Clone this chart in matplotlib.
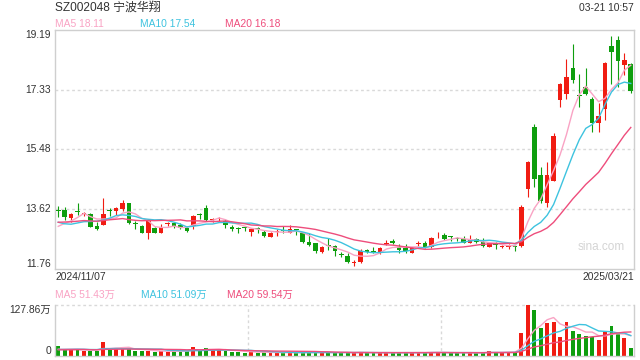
import matplotlib
matplotlib.use('Agg')
import matplotlib.pyplot as plt
import numpy as np
from matplotlib.transforms import blended_transform_factory as btf

FONT = ['Liberation Sans', 'Noto Sans CJK SC', 'DejaVu Sans']
plt.rcParams['font.family'] = FONT

# ---------------- data ----------------
code = 'SZ002048'
name = '宁波华翔'
stamp = '03-21 10:57'
start_date = '2024/11/07'
end_date = '2025/03/21'
price_ticks = [11.76, 13.62, 15.48, 17.33, 19.19]
vol_ticks = [0, 127.86]
ma_price_labels = ['MA5 18.11', 'MA10 17.54', 'MA20 16.18']
ma_vol_labels = ['MA5 51.43万', 'MA10 51.09万', 'MA20 59.54万']

opens = [13.58, 13.59, 13.33, 13.55, 13.48, 13.47, 13.09, 13.13, 13.58, 13.57,
         13.61, 13.82, 13.17, 13.09, 12.89, 13.02, 12.89, 13.15, 13.18, 13.13,
         13.02, 13.10, 13.44, 13.64, 13.27, 13.32, 13.26, 13.07, 13.00, 13.03,
         12.92, 13.00, 12.92, 12.76, 12.91, 12.96, 12.89, 12.98, 12.89, 12.61,
         12.56, 12.28, 12.50, 12.47, 12.20, 12.16, 11.95, 11.99, 12.35, 12.31,
         12.25, 12.55, 12.63, 12.45, 12.40, 12.27, 12.55, 12.58, 12.44, 12.80,
         12.81, 12.76, 12.69, 12.68, 12.58, 12.68, 12.61, 12.45, 12.58, 12.44,
         12.44, 12.46, 12.47, 14.23, 16.18, 14.68, 13.82, 14.50, 17.00, 17.19,
         17.99, 17.14, 17.42, 17.03, 16.30, 16.72, 18.68, 18.87, 18.09, 18.12]
highs = [13.71, 13.67, 13.51, 13.80, 13.54, 13.49, 13.23, 13.95, 13.64, 13.69,
         13.90, 13.82, 13.26, 13.13, 13.30, 13.05, 13.16, 13.23, 13.23, 13.20,
         13.07, 13.44, 13.51, 13.75, 13.33, 13.38, 13.30, 13.13, 13.07, 13.07,
         13.02, 13.05, 12.97, 12.92, 12.99, 13.09, 13.13, 12.99, 12.89, 12.87,
         12.58, 12.47, 12.71, 12.50, 12.30, 12.25, 12.04, 12.37, 12.37, 12.45,
         12.45, 12.66, 12.68, 12.54, 12.54, 12.45, 12.64, 12.64, 12.74, 12.90,
         12.87, 12.78, 12.75, 12.78, 12.81, 12.71, 12.71, 12.58, 12.61, 12.50,
         12.54, 12.50, 13.75, 15.12, 16.26, 14.93, 15.09, 15.99, 17.54, 18.27,
         18.74, 17.81, 17.99, 17.11, 16.90, 18.19, 18.99, 18.99, 18.47, 18.16]
lows = [13.37, 13.28, 13.23, 13.44, 13.40, 13.05, 12.97, 13.12, 13.40, 13.44,
        13.57, 13.15, 12.99, 12.87, 12.68, 12.87, 12.87, 13.09, 13.02, 12.99,
        12.91, 12.99, 13.30, 13.26, 13.23, 13.26, 13.02, 12.95, 12.89, 12.95,
        12.79, 12.89, 12.75, 12.74, 12.78, 12.89, 12.87, 12.81, 12.58, 12.47,
        12.27, 12.25, 12.35, 12.15, 12.14, 11.96, 11.85, 11.96, 12.25, 12.25,
        12.23, 12.50, 12.54, 12.27, 12.27, 12.25, 12.47, 12.40, 12.40, 12.73,
        12.66, 12.64, 12.64, 12.56, 12.56, 12.58, 12.45, 12.43, 12.37, 12.40,
        12.37, 12.33, 12.45, 14.00, 14.31, 13.80, 13.69, 14.50, 16.80, 17.03,
        17.54, 16.80, 17.16, 16.02, 16.02, 16.38, 17.50, 17.42, 17.78, 17.21]
closes = [13.57, 13.36, 13.47, 13.54, 13.49, 13.07, 12.99, 13.47, 13.57, 13.64,
          13.80, 13.18, 13.16, 12.89, 13.26, 12.89, 13.05, 13.16, 13.10, 13.02,
          12.95, 13.40, 13.43, 13.28, 13.28, 13.33, 13.13, 12.99, 12.99, 13.02,
          12.99, 12.99, 12.78, 12.87, 12.92, 12.95, 12.99, 12.97, 12.61, 12.50,
          12.33, 12.45, 12.47, 12.33, 12.19, 11.99, 11.96, 12.33, 12.30, 12.30,
          12.40, 12.56, 12.58, 12.35, 12.32, 12.42, 12.56, 12.44, 12.71, 12.81,
          12.68, 12.75, 12.68, 12.58, 12.68, 12.61, 12.47, 12.56, 12.50, 12.45,
          12.45, 12.45, 13.69, 15.09, 14.54, 13.88, 14.68, 15.89, 17.50, 17.71,
          17.63, 17.13, 17.19, 16.30, 16.51, 18.16, 18.50, 18.22, 18.25, 17.29]
# volume in 万 (10k shares)
volumes = [25.1, 16.7, 16.7, 17.5, 13.4, 13.4, 13.4, 35.9, 17.5, 19.2,
           19.2, 17.5, 13.4, 13.4, 12.5, 10.9, 12.5, 10.9, 12.5, 12.5,
           12.5, 23.4, 12.5, 20.9, 15.0, 15.0, 13.4, 10.9, 10.9, 8.4,
           10.9, 8.4, 9.2, 8.4, 7.5, 8.4, 9.2, 7.5, 9.2, 8.4,
           9.2, 10.0, 8.4, 7.5, 8.4, 9.2, 8.4, 10.0, 7.5, 7.5,
           8.4, 9.2, 8.4, 7.5, 8.4, 8.4, 9.2, 8.4, 10.0, 9.2,
           8.4, 7.5, 7.5, 8.4, 8.4, 7.5, 8.4, 12.5, 9.2, 8.4,
           10.0, 10.0, 58.5, 127.86, 115.3, 69.4, 83.6, 86.1, 48.5, 84.4,
           63.0, 54.0, 50.1, 48.5, 40.1, 59.0, 74.0, 56.8, 46.0, 20.0]
# sessions before the window (only used for the moving averages)
prior_closes = [13.2, 13.3, 13.2, 13.1, 13.3, 13.2, 13.0, 13.1, 13.3, 13.4,
                13.83, 13.6, 13.15, 13.1, 13.0, 12.9, 13.1, 13.0, 12.85]
prior_volumes = [14, 16, 15, 13, 17, 15, 14, 16, 15, 13,
                 15, 16, 14, 15, 17, 15, 14, 16, 15]

# ---------------- style ----------------
UP = '#f01c12'
DOWN = '#0e9e0e'
MA_COLORS = ['#f9a3c4', '#3ec3df', '#ee4d7c']
GRID = '#d9d9d9'
BORDER = '#cfcfcf'
TXT = '#333333'
FS = 7.4

n = len(closes)
x = np.arange(n)
o = np.array(opens); h = np.array(highs); l = np.array(lows); c = np.array(closes)
v = np.array(volumes)
up = c >= o
cols = [UP if u else DOWN for u in up]

def ma(series, prior, k):
    full = np.concatenate([prior, series])
    out = np.convolve(full, np.ones(k) / k, mode='valid')
    return out[-len(series):]

fig = plt.figure(figsize=(6.4, 3.6), dpi=100)
L, R = 55 / 640, 634 / 640
ax = fig.add_axes([L, 1 - 269 / 360, R - L, (269 - 29.6) / 360])
axv = fig.add_axes([L, 1 - 356 / 360, R - L, (356 - 305) / 360])

# ---- price panel ----
ax.vlines(x, l, h, colors=cols, linewidth=0.8, zorder=2)
body_lo = np.minimum(o, c)
body_h = np.maximum(np.abs(c - o), 0.03)
ax.bar(x, body_h, bottom=body_lo, width=0.72, color=cols, linewidth=0, zorder=3)
for k, col in zip([5, 10, 20], MA_COLORS):
    ax.plot(x, ma(c, np.array(prior_closes), k), color=col, lw=1.0, zorder=4)

ax.set_xlim(-0.5, n - 0.5)
ax.set_ylim(price_ticks[0], price_ticks[-1])
ax.set_xticks([]); ax.set_yticks([])
for s in ax.spines.values():
    s.set_color(BORDER); s.set_linewidth(1.0)
for t in price_ticks[1:-1]:
    ax.axhline(t, color=GRID, lw=1.0, ls=(0, (2, 2)), zorder=1)

tr = btf(fig.transFigure, ax.transData)
for i, t in enumerate(price_ticks):
    va = 'bottom' if i == 0 else ('top' if i == len(price_ticks) - 1 else 'center')
    fig.text(51 / 640, t, f'{t:.2f}', transform=tr, ha='right', va=va,
             fontsize=FS, color=TXT)

ax.text(0.985, 0.09, 'sina.com', transform=ax.transAxes, ha='right', va='center',
        fontsize=8.5, color='#d4d4d4')

# ---- volume panel ----
axv.bar(x, v, width=0.6, color=cols, linewidth=0, zorder=2)
for k, col in zip([5, 10, 20], MA_COLORS):
    axv.plot(x, ma(v, np.array(prior_volumes, dtype=float), k), color=col, lw=1.0, zorder=3)
axv.set_xlim(-0.5, n - 0.5)
axv.set_ylim(vol_ticks[0], vol_ticks[-1])
axv.set_xticks([]); axv.set_yticks([])
for s in axv.spines.values():
    s.set_color(BORDER); s.set_linewidth(1.0)
axv.spines['top'].set_visible(False)
axv.axhline(vol_ticks[-1], color=GRID, lw=1.0, ls=(0, (2, 2)), zorder=1, clip_on=False)
for fx in (1 / 3, 2 / 3):
    axv.axvline(-0.5 + n * fx, color=GRID, lw=1.0, ls=(0, (2, 2)), zorder=1)

trv = btf(fig.transFigure, axv.transData)
fig.text(51 / 640, vol_ticks[-1], f'{vol_ticks[-1]:.2f}万', transform=trv, ha='right',
         va='top', fontsize=FS, color=TXT)
fig.text(51 / 640, vol_ticks[0], '0', transform=trv, ha='right', va='bottom',
         fontsize=FS, color=TXT)

# ---- header / labels ----
def fy(py):
    return 1 - py / 360

fig.text(L, fy(8), f'{code} {name}', ha='left', va='center', fontsize=8.6, color=TXT)
fig.text(R, fy(8), stamp, ha='right', va='center', fontsize=FS, color=TXT)
for lab, col, px in zip(ma_price_labels, MA_COLORS, [55, 140, 225]):
    fig.text(px / 640, fy(24), lab, ha='left', va='center', fontsize=FS, color=col)
fig.text(L, fy(277), start_date, ha='left', va='center', fontsize=FS, color=TXT)
fig.text(R, fy(277), end_date, ha='right', va='center', fontsize=FS, color=TXT)
for lab, col, px in zip(ma_vol_labels, MA_COLORS, [55, 141, 227]):
    fig.text(px / 640, fy(295), lab, ha='left', va='center', fontsize=FS, color=col)

fig.savefig('out.png', dpi=100, facecolor='white')
